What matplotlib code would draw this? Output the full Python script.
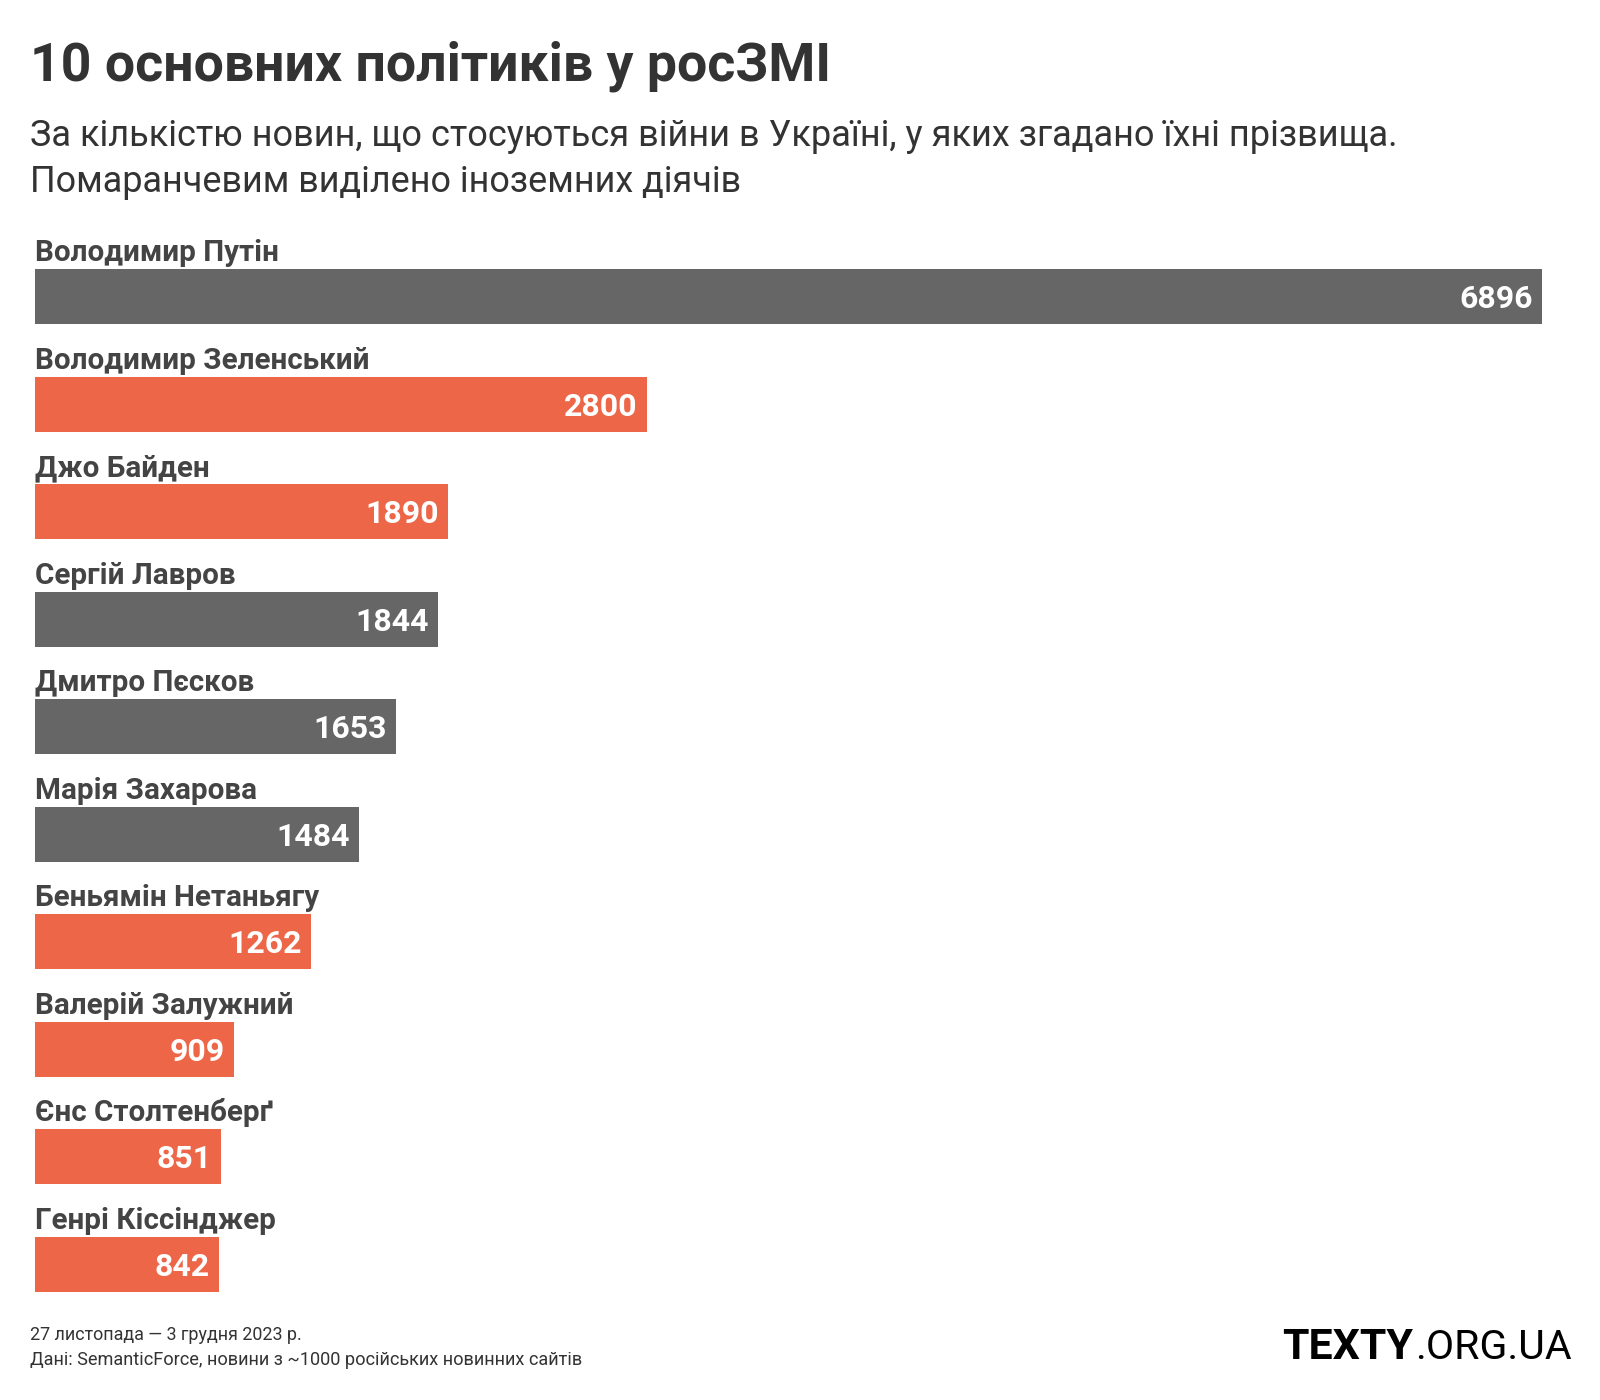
import matplotlib
matplotlib.use("Agg")
import matplotlib.pyplot as plt

names = ["Володимир Путін", "Володимир Зеленський", "Джо Байден", "Сергій Лавров",
         "Дмитро Пєсков", "Марія Захарова", "Беньямін Нетаньягу", "Валерій Залужний",
         "Єнс Столтенберґ", "Генрі Кіссінджер"]
values = [6896, 2800, 1890, 1844, 1653, 1484, 1262, 909, 851, 842]
foreign = [False, True, True, False, False, False, True, True, True, True]

title = "10 основних політиків у росЗМІ"
subtitle1 = "За кількістю новин, що стосуються війни в Україні, у яких згадано їхні прізвища."
subtitle2 = "Помаранчевим виділено іноземних діячів"
footer1 = "27 листопада — 3 грудня 2023 р."
footer2 = "Дані: SemanticForce, новини з ~1000 російських новинних сайтів"

GRAY = "#666666"
ORANGE = "#ED6648"
FONT = ["Roboto", "DejaVu Sans"]

W, H = 1600, 1400
fig = plt.figure(figsize=(W / 100, H / 100), dpi=100)
fig.patch.set_facecolor("white")

# axes geometry in pixels
left_px, right_px = 35, 1542
top_px, bot_px = 243, 1318
ax = fig.add_axes([left_px / W, 1 - bot_px / H, (right_px - left_px) / W, (bot_px - top_px) / H])
n = len(values)
ypos = list(range(n))
colors = [ORANGE if f else GRAY for f in foreign]
ax.barh(ypos, values, height=0.51, color=colors, zorder=2)
ax.set_xlim(0, max(values))
ax.set_ylim(n - 0.5, -0.5)
ax.axis("off")

for i, (nm, v) in enumerate(zip(names, values)):
    ax.text(0, i - 0.33, nm, ha="left", va="baseline", fontsize=21.3, fontweight="bold",
            color="#444444", family=FONT, clip_on=False)
    ax.annotate(str(v), xy=(v, i), xytext=(-6.5, -8.2), textcoords="offset points",
                ha="right", va="baseline", fontsize=23, fontweight="bold", color="white",
                family=FONT)

renderer = fig.canvas.get_renderer()


def fit_text(x_px, y_px, s, target_w, weight="normal", color="#333333", ha="left", size0=20):
    t = fig.text(x_px / W, 1 - y_px / H, s, ha=ha, va="baseline", fontsize=size0,
                 fontweight=weight, color=color, family=FONT)
    w = t.get_window_extent(renderer).width
    t.set_fontsize(size0 * target_w / w)
    return t


fit_text(30, 80, title, 802, weight="bold", color="#333333", size0=36)
fit_text(30, 146, subtitle1, 1370, color="#333333", size0=26)
fit_text(30, 192, subtitle2, 713, color="#333333", size0=26)
fit_text(30, 1340, footer1, 271, color="#333333", size0=12)
fit_text(30, 1365, footer2, 550, color="#333333", size0=12)

# logo
fit_text(1282, 1359, "TEXTY", 131, weight="bold", color="#000000", size0=28)
fit_text(1415, 1359, ".ORG.UA", 157, weight="normal", color="#000000", size0=28)

fig.savefig("out.png", dpi=100, facecolor="white")
